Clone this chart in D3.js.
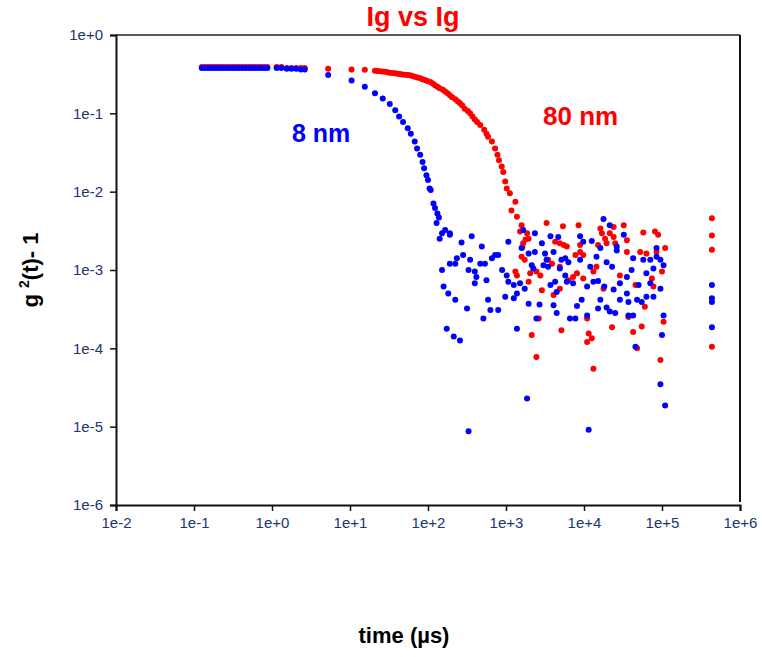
<!DOCTYPE html>
<html>
<head>
<meta charset="utf-8">
<script src="https://cdn.jsdelivr.net/npm/d3@7"></script>
<style>
  body { margin: 0; background: #fff; }
  text { font-family: "Liberation Sans", Arial, sans-serif; }
</style>
</head>
<body>
<div id="chart"></div>
<script>

// values, stored as log10 pairs [log10 time(µs), log10 g2-1]
let plateauLogT = [-0.90, -0.86, -0.82, -0.78, -0.74, -0.70, -0.66, -0.62, -0.58, -0.54, -0.50,
                   -0.46, -0.42, -0.38, -0.34, -0.30, -0.26, -0.22, -0.18, -0.14, -0.10, -0.06,
                   0.06, 0.12, 0.19, 0.25, 0.31, 0.37, 0.42];

let bluePlateauLogG = [-0.42, -0.42, -0.42, -0.42, -0.42, -0.42, -0.42, -0.42, -0.42, -0.42, -0.42,
                       -0.42, -0.42, -0.42, -0.42, -0.42, -0.42, -0.42, -0.42, -0.42, -0.42, -0.42,
                       -0.42, -0.42, -0.43, -0.43, -0.43, -0.44, -0.44];

let redPlateauLogG = [-0.41, -0.41, -0.41, -0.41, -0.41, -0.41, -0.41, -0.41, -0.41, -0.41, -0.41,
                      -0.41, -0.41, -0.41, -0.41, -0.41, -0.41, -0.41, -0.41, -0.41, -0.41, -0.41,
                      -0.41, -0.41, -0.42, -0.42, -0.42, -0.42, -0.42];

let blueDecay = [
  [0.72, -0.51], [1.02, -0.58], [1.19, -0.66], [1.32, -0.745], [1.42, -0.81], [1.51, -0.88],
  [1.58, -0.96], [1.63, -1.04], [1.68, -1.11], [1.74, -1.19], [1.78, -1.26], [1.83, -1.36],
  [1.86, -1.45], [1.90, -1.53], [1.93, -1.62], [1.95, -1.70], [1.98, -1.79], [2.00, -1.85],
  [2.02, -1.96], [2.035, -1.98], [2.07, -2.15], [2.09, -2.21], [2.12, -2.28], [2.11, -2.40],
  [2.14, -2.33], [2.18, -2.53], [2.22, -2.49], [2.28, -2.55], [2.15, -2.60]
];

let blueNoise = [
  [2.28, -2.53], [2.43, -2.65], [2.56, -2.57], [2.69, -2.70], [3.03, -2.64], [3.22, -2.49],
  [3.37, -2.53], [3.57, -2.57], [3.67, -2.58], [3.95, -2.57], [3.99, -2.64], [4.10, -2.63],
  [4.25, -2.35], [4.33, -2.43], [4.51, -2.55], [3.46, -2.66], [3.61, -2.77], [3.76, -2.85],
  [3.20, -2.72], [3.29, -2.79], [3.37, -2.77], [3.50, -2.79], [3.52, -2.87], [3.71, -2.87],
  [3.80, -2.90], [3.95, -2.87], [4.08, -2.96], [4.16, -2.83], [4.29, -2.90], [4.36, -2.96],
  [4.42, -2.70], [4.42, -2.75], [4.21, -2.72], [4.63, -2.85], [4.76, -2.87], [4.85, -2.87],
  [4.93, -2.83], [4.93, -2.72], [5.02, -2.94], [4.89, -2.98], [4.80, -3.04], [4.61, -3.00],
  [4.55, -3.09], [4.46, -3.17], [4.38, -3.25], [4.55, -3.30], [4.46, -3.38], [4.57, -3.41],
  [4.68, -3.38], [4.74, -3.41], [4.80, -3.34], [4.89, -3.34], [4.98, -3.24], [4.85, -3.17],
  [4.70, -3.19], [2.37, -2.85], [2.45, -2.81], [2.54, -2.87], [2.35, -2.92], [2.28, -2.92],
  [2.18, -3.00], [2.52, -3.00], [2.60, -3.02], [2.67, -2.92], [2.73, -2.92], [2.86, -2.81],
  [2.90, -2.81], [2.82, -2.85], [2.95, -3.00], [3.01, -3.07], [3.03, -3.15], [3.10, -3.19],
  [3.18, -3.17], [3.24, -3.24], [3.14, -3.30], [3.10, -3.36], [2.99, -3.34], [2.77, -3.38],
  [2.80, -3.51], [2.90, -3.51], [2.71, -3.62], [2.50, -3.49], [2.20, -3.21], [2.26, -3.30],
  [2.35, -3.38], [2.62, -3.09], [2.60, -3.17], [2.75, -3.13], [3.29, -3.43], [3.43, -3.44],
  [3.39, -3.62], [3.57, -3.19], [3.63, -3.15], [3.65, -3.28], [3.61, -3.45], [3.65, -3.55],
  [3.82, -3.62], [3.89, -3.62], [3.91, -3.46], [3.97, -3.38], [4.04, -3.58], [4.04, -3.21],
  [4.12, -3.15], [4.18, -3.14], [4.21, -3.38], [4.18, -3.49], [4.29, -3.48], [4.33, -3.53],
  [4.40, -3.55], [4.26, -3.21], [3.78, -3.15], [3.86, -3.17], [3.76, -3.07], [3.69, -2.98],
  [3.54, -2.96], [3.48, -2.94], [3.35, -2.98], [3.33, -2.94], [2.24, -3.75], [2.33, -3.85],
  [2.41, -3.90], [3.14, -3.75], [3.27, -4.64], [2.52, -5.06], [4.06, -5.04], [4.66, -3.98],
  [4.98, -4.46], [5.00, -3.83], [5.04, -4.73], [5.64, -3.19], [5.64, -3.36], [5.64, -3.41],
  [5.64, -3.73], [5.02, -3.58], [4.63, -3.58], [4.57, -3.58], [4.98, -2.87]
];

let redDecay = [
  [0.72, -0.43], [1.02, -0.44], [1.19, -0.445], [1.32, -0.456], [1.35, -0.46], [1.385, -0.464],
  [1.42, -0.467], [1.45, -0.469], [1.48, -0.475], [1.51, -0.481], [1.545, -0.485], [1.58, -0.489],
  [1.61, -0.494], [1.64, -0.498], [1.67, -0.503], [1.705, -0.507], [1.74, -0.511], [1.77, -0.515],
  [1.80, -0.524], [1.83, -0.533], [1.865, -0.543], [1.90, -0.553], [1.93, -0.564], [1.96, -0.575],
  [1.99, -0.587], [2.03, -0.60], [2.06, -0.62], [2.09, -0.64], [2.12, -0.66], [2.15, -0.68],
  [2.19, -0.70], [2.22, -0.72], [2.25, -0.745], [2.28, -0.77], [2.31, -0.795], [2.35, -0.82],
  [2.38, -0.845], [2.41, -0.87], [2.44, -0.90], [2.47, -0.94], [2.51, -0.97], [2.54, -1.00],
  [2.57, -1.04], [2.60, -1.08], [2.63, -1.11], [2.67, -1.15], [2.72, -1.21], [2.75, -1.26],
  [2.77, -1.30], [2.82, -1.36], [2.86, -1.45], [2.89, -1.53], [2.91, -1.60], [2.945, -1.68],
  [2.965, -1.75], [2.99, -1.87], [3.01, -1.96], [3.05, -2.02], [3.12, -2.13], [3.07, -2.24],
  [3.14, -2.32], [3.20, -2.43], [3.18, -2.51]
];

let redNoise = [
  [3.27, -2.53], [3.29, -2.60], [3.22, -2.66], [3.24, -2.87], [3.20, -2.83], [3.52, -2.40],
  [3.73, -2.44], [3.93, -2.43], [4.21, -2.47], [4.38, -2.45], [4.51, -2.43], [4.33, -2.53],
  [4.27, -2.60], [4.18, -2.68], [4.23, -2.53], [4.40, -2.66], [4.55, -2.62], [4.55, -2.77],
  [4.72, -2.77], [4.80, -2.79], [4.93, -2.77], [5.04, -2.72], [4.76, -2.52], [4.91, -2.51],
  [4.95, -2.55], [3.95, -2.68], [3.89, -2.81], [3.74, -2.68], [3.63, -2.64], [3.69, -2.66],
  [3.78, -2.70], [3.95, -2.77], [3.99, -2.81], [3.44, -3.07], [3.46, -3.26], [3.61, -3.32],
  [3.69, -3.24], [3.80, -3.13], [3.86, -3.09], [3.91, -3.04], [4.16, -2.96], [4.12, -3.02],
  [3.99, -3.11], [4.25, -3.24], [4.46, -3.07], [4.66, -3.19], [4.78, -3.47], [4.87, -3.11],
  [4.89, -3.21], [5.00, -3.02], [3.12, -3.02], [3.29, -3.15], [3.39, -3.02], [3.59, -2.92],
  [3.54, -2.87], [3.69, -2.96], [3.33, -3.83], [3.39, -4.11], [3.71, -3.77], [4.04, -3.62],
  [4.06, -3.81], [4.10, -3.87], [4.04, -3.92], [4.12, -4.26], [4.36, -3.73], [4.63, -3.79],
  [4.74, -3.72], [4.68, -4.00], [5.02, -3.66], [4.98, -4.15], [4.57, -3.60], [5.64, -2.34],
  [5.64, -2.56], [5.64, -2.74], [5.64, -3.98], [3.42, -3.62], [3.14, -3.07], [3.31, -3.04],
  [4.29, -2.66], [4.38, -2.58], [3.25, -2.61], [3.21, -2.71]
];

let xTicks = [1e-2, 1e-1, 1e0, 1e1, 1e2, 1e3, 1e4, 1e5, 1e6];
let xTickLabels = ["1e-2", "1e-1", "1e+0", "1e+1", "1e+2", "1e+3", "1e+4", "1e+5", "1e+6"];
let yTicks = [1e-6, 1e-5, 1e-4, 1e-3, 1e-2, 1e-1, 1e0];
let yTickLabels = ["1e-6", "1e-5", "1e-4", "1e-3", "1e-2", "1e-1", "1e+0"];

function main(){

    let width = 762;
    let height = 657;
    let left = 116, right = 740, top = 35, bottom = 505;

    let svg = d3.select("#chart")
                .append("svg")
                .attr("width", width)
                .attr("height", height)

    let xScale = d3.scaleLog()
                    .domain([1e-2, 1e6])
                    .range([left, right])

    let yScale = d3.scaleLog()
                    .domain([1e-6, 1])
                    .range([bottom, top])

    let toValues = p => [Math.pow(10, p[0]), Math.pow(10, p[1])];

    let blue = plateauLogT.map((t, i) => [t, bluePlateauLogG[i]]).concat(blueDecay, blueNoise).map(toValues);
    let red = plateauLogT.map((t, i) => [t, redPlateauLogG[i]]).concat(redDecay, redNoise).map(toValues);

    // frame: top and right lines
    svg.append("line")
        .attr("x1", left).attr("x2", right)
        .attr("y1", top).attr("y2", top)
        .attr("stroke", "#222").attr("stroke-width", 1.5)
    svg.append("line")
        .attr("x1", right).attr("x2", right)
        .attr("y1", top).attr("y2", bottom - 3)
        .attr("stroke", "#111").attr("stroke-width", 2)

    let xAxis = d3.axisBottom(xScale)
                    .tickValues(xTicks)
                    .tickFormat((d, i) => xTickLabels[i])
                    .tickSizeOuter(0)
                    .tickSize(6)
    let yAxis = d3.axisLeft(yScale)
                    .tickValues(yTicks)
                    .tickFormat((d, i) => yTickLabels[i])
                    .tickSizeOuter(0)
                    .tickSize(6)

    let gx = svg.append("g")
                .attr("transform", `translate(0,${bottom})`)
                .call(xAxis)
    let gy = svg.append("g")
                .attr("transform", `translate(${left},0)`)
                .call(yAxis)

    svg.selectAll(".domain").attr("stroke", "#111").attr("stroke-width", 2)
    svg.selectAll(".tick line").attr("stroke", "#111").attr("stroke-width", 1.5)
    svg.selectAll(".tick text")
        .attr("fill", "#22346e")
        .style("font-size", "15px")
        .style("font-family", "'Liberation Sans', Arial, sans-serif")
    gx.selectAll(".tick text").attr("dy", "0.95em")
    gy.selectAll(".tick text").attr("x", -13)

    function appendDots(points, color){
        svg.append("g")
            .selectAll("circle")
            .data(points)
            .enter()
            .append("circle")
            .attr("cx", d => xScale(d[0]))
            .attr("cy", d => yScale(d[1]))
            .attr("r", 3)
            .attr("fill", color)
    }

    appendDots(red, "#ff0000")
    appendDots(blue, "#0000ff")

    svg.append("text")
        .attr("x", 413).attr("y", 26)
        .attr("text-anchor", "middle")
        .attr("fill", "#ff0000")
        .style("font-size", "27px")
        .style("font-weight", "bold")
        .text("Ig vs Ig")

    svg.append("text")
        .attr("x", 292).attr("y", 142)
        .attr("fill", "#0000ff")
        .style("font-size", "25px")
        .style("font-weight", "bold")
        .text("8 nm")

    svg.append("text")
        .attr("x", 543).attr("y", 125)
        .attr("fill", "#ff0000")
        .style("font-size", "26px")
        .style("font-weight", "bold")
        .text("80 nm")

    let ylab = svg.append("text")
        .attr("transform", "translate(38,270) rotate(-90)")
        .attr("text-anchor", "middle")
        .attr("fill", "#000")
        .style("font-size", "22px")
        .style("font-weight", "bold")
    ylab.append("tspan").text("g ")
    ylab.append("tspan").attr("dy", -9).style("font-size", "14px").text("2")
    ylab.append("tspan").attr("dy", 9).text("(t)- 1")

    svg.append("text")
        .attr("x", 404).attr("y", 643)
        .attr("text-anchor", "middle")
        .attr("fill", "#000")
        .style("font-size", "22px")
        .style("font-weight", "bold")
        .text("time (µs)")
}

main()
</script>
</body>
</html>
